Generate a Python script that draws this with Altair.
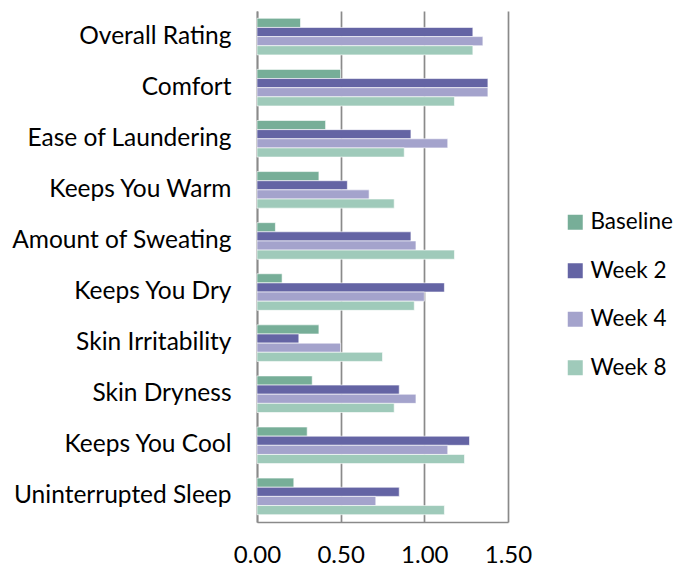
import altair as alt
import pandas as pd

categories = ["Overall Rating", "Comfort", "Ease of Laundering", "Keeps You Warm",
              "Amount of Sweating", "Keeps You Dry", "Skin Irritability",
              "Skin Dryness", "Keeps You Cool", "Uninterrupted Sleep"]
series = ["Baseline", "Week 2", "Week 4", "Week 8"]
baseline = [0.26, 0.50, 0.41, 0.37, 0.11, 0.15, 0.37, 0.33, 0.30, 0.22]
week2 = [1.29, 1.38, 0.92, 0.54, 0.92, 1.12, 0.25, 0.85, 1.27, 0.85]
week4 = [1.35, 1.38, 1.14, 0.67, 0.95, 1.00, 0.50, 0.95, 1.14, 0.71]
week8 = [1.29, 1.18, 0.88, 0.82, 1.18, 0.94, 0.75, 0.82, 1.24, 1.12]
colors = ["#77AE98", "#6464A4", "#A4A3CC", "#9FCABA"]
tick_values = [0.0, 0.5, 1.0, 1.5]

rows = []
for s, vals in zip(series, [baseline, week2, week4, week8]):
    for c, v in zip(categories, vals):
        rows.append({"Category": c, "Series": s, "Value": v})
df = pd.DataFrame(rows)

FONT = "Lato"
GRID = "#8a8a8a"

chart = alt.Chart(df).mark_bar(stroke="white", strokeWidth=0.6).encode(
    y=alt.Y("Category:N", sort=categories, title=None,
            scale=alt.Scale(paddingInner=0.284, paddingOuter=0.143),
            axis=alt.Axis(ticks=False, labelPadding=26, labelFontSize=24.5, labelFont=FONT,
                          labelColor="black", domainColor=GRID, domainWidth=1.7,
                          grid=False, labelLimit=400)),
    yOffset=alt.YOffset("Series:N", sort=series, scale=alt.Scale(paddingInner=0, paddingOuter=0)),
    x=alt.X("Value:Q", title=None,
            scale=alt.Scale(domain=[0, 1.5], nice=False),
            axis=alt.Axis(values=tick_values, format=".2f", ticks=False, labelPadding=21,
                          labelFontSize=24, labelFont=FONT, labelColor="black",
                          domainColor=GRID, domainWidth=1.7, grid=True, gridColor=GRID,
                          gridWidth=1.7, labelFlush=False)),
    color=alt.Color("Series:N", sort=series, title=None,
                    scale=alt.Scale(domain=series, range=colors),
                    legend=alt.Legend(orient="none", legendX=307, legendY=200,
                                      symbolType="square", symbolSize=225,
                                      symbolStrokeWidth=0, labelFontSize=22.5,
                                      labelFont=FONT, labelColor="black",
                                      labelOffset=4, rowPadding=25.5, padding=0)),
).properties(
    width=251, height=511,
    autosize=alt.AutoSizeParams(type="none"),
    padding={"left": 249, "top": 3, "right": 169, "bottom": 46},
).configure_view(stroke=None)

chart.save("out.html", embed_options={"renderer": "svg", "actions": False})
